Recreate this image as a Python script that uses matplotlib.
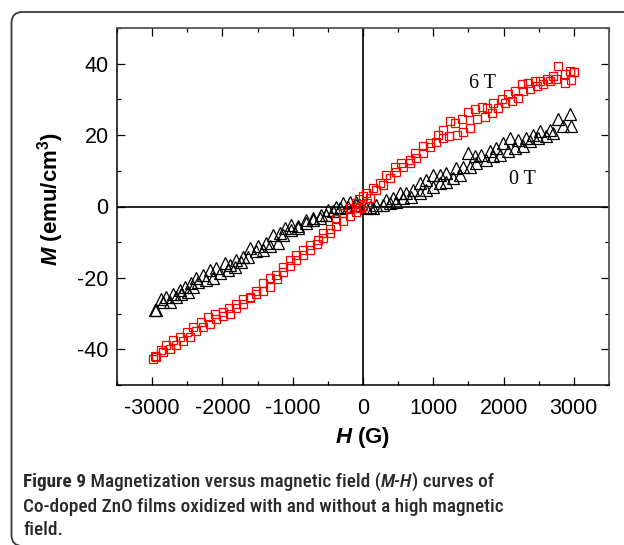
import matplotlib
matplotlib.use("Agg")
import matplotlib.pyplot as plt
from matplotlib import font_manager
from matplotlib.path import Path
from matplotlib.patches import PathPatch
from matplotlib import transforms
from matplotlib.ticker import MultipleLocator

# ---------------- data ----------------
h6_down = [3000, 2944, 2880, 2774, 2702, 2617, 2517, 2446, 2346, 2260, 2160, 2061, 1975, 1847, 1761,
           1690, 1590, 1490, 1405, 1305, 1234, 1139, 1068, 949, 854, 736, 664, 546, 451, 332,
           237, 142, 47, 0, -50, -95, -190, -285, -380, -475, -570, -641, -750, -854, -950,
           -1044, -1140, -1234, -1330, -1424, -1520, -1614, -1710, -1803, -1900, -1993, -2100,
           -2207, -2310, -2420, -2510, -2610, -2700, -2800, -2880, -2966]
m6_down = [37.8, 37.9, 37.0, 39.3, 36.5, 35.6, 35.1, 35.1, 34.7, 34.2, 32.3, 31.4, 30.0, 29.1, 27.7,
           28.0, 27.2, 26.6, 24.4, 23.5, 23.9, 21.5, 20.1, 17.8, 16.9, 15.0, 13.1, 12.2, 11.2, 8.9,
           6.6, 5.2, 3.7, 3.0, 2.0, 0.9, -0.5, -1.9, -3.5, -6.2, -7.5, -9.4, -10.8, -12.2, -13.6,
           -15.0, -17.0, -19.2, -20.0, -21.5, -23.6, -25.3, -26.0, -27.2, -28.5, -29.5, -30.2,
           -30.9, -32.4, -33.7, -35.2, -36.5, -37.5, -38.9, -40.2, -42.0]
h6_up = [-2990, -2943, -2848, -2750, -2658, -2560, -2468, -2370, -2278, -2180, -2088, -1990, -1898,
         -1800, -1709, -1610, -1519, -1420, -1329, -1230, -1139, -1040, -949, -850, -759, -660,
         -570, -470, -380, -280, -190, -100, -40, 0, 50, 100, 190, 280, 380, 470, 570, 664, 760,
         850, 950, 1040, 1139, 1230, 1333, 1419, 1519, 1619, 1733, 1833, 1918, 2018, 2118, 2203,
         2275, 2374, 2474, 2560, 2660, 2753, 2873, 2960, 3000]
m6_up = [-42.6, -42.2, -40.7, -39.9, -38.9, -37.6, -36.5, -35.0, -33.7, -32.8, -31.4, -30.8, -30.0,
         -28.4, -27.2, -25.6, -24.4, -23.6, -22.5, -20.2, -18.3, -16.6, -15.0, -13.5, -12.2, -10.5,
         -8.9, -7.3, -5.6, -4.0, -2.8, -1.5, -0.5, 0.2, 1.0, 2.5, 4.7, 6.0, 8.0, 9.6, 11.0, 12.2, 13.5,
         15.0, 16.8, 18.0, 19.2, 19.8, 20.1, 21.0, 22.1, 24.4, 25.2, 26.3, 27.7, 29.1, 29.5, 30.4,
         32.3, 32.8, 33.7, 34.2, 35.1, 35.6, 34.7, 35.5, 37.6]

h0_down = [2943, 2776, 2658, 2515, 2420, 2326, 2200, 2088, 1993, 1898, 1804, 1685, 1590, 1495, 1424,
           1329, 1187, 1092, 997, 902, 807, 712, 617, 522, 427, 332, 190, 95, -95, -190,
           -285, -380, -498, -593, -712, -807, -925, -1020, -1115, -1187, -1281, -1376, -1495,
           -1614, -1709, -1804, -1898, -1970, -2088, -2183, -2278, -2373, -2444, -2539, -2610,
           -2705, -2800, -2871, -2966]
m0_down = [25.8, 24.4, 21.5, 21.1, 20.1, 19.2, 18.5, 19.2, 17.8, 16.4, 15.5, 14.5, 14.1, 15.0, 11.2,
           10.8, 9.4, 8.9, 8.9, 7.5, 6.6, 4.7, 3.7, 3.7, 2.3, 1.9, 0.5, 0.0, 1.4, 1.4,
           0.9, 0.0, -0.9, -2.3, -3.3, -3.7, -5.6, -5.2, -6.1, -7.5, -8.0, -10.3, -11.2,
           -11.7, -14.1, -15.0, -16.4, -15.9, -17.3, -17.8, -19.2, -20.1, -21.5, -22.5, -23.4,
           -24.4, -25.3, -25.8, -29.0]
h0_up = [-2943, -2848, -2753, -2658, -2587, -2492, -2420, -2349, -2231, -2136, -2041, -1922, -1827,
         -1732, -1637, -1519, -1424, -1329, -1210, -1139, -1020, -925, -807, -712, -617, -522,
         -427, -332, -214, -95, 47, 142, 285, 380, 475, 570, 688, 807, 902, 997, 1092, 1187,
         1281, 1376, 1519, 1614, 1756, 1851, 1946, 2064, 2160, 2278, 2373, 2492, 2610, 2705,
         2848, 2966]
m0_up = [-29.0, -26.7, -26.7, -25.3, -24.4, -23.9, -22.5, -21.1, -20.6, -20.1, -18.7, -17.8, -16.9,
         -15.5, -14.1, -12.6, -12.2, -11.2, -10.3, -8.0, -6.6, -6.1, -4.7, -3.7, -3.3, -2.3,
         -1.4, -0.5, 0.0, 0.5, -0.5, -0.5, 0.5, 0.9, 1.4, 2.3, 2.8, 3.7, 4.7, 5.6, 6.6, 7.0,
         8.0, 8.9, 11.2, 12.2, 13.1, 14.1, 14.5, 15.5, 16.4, 16.9, 18.3, 19.2, 19.7, 20.6,
         22.5, 22.5]

xticks = [-3000, -2000, -1000, 0, 1000, 2000, 3000]
yticks = [-40, -20, 0, 20, 40]
label_6T = "6 T"
label_0T = "0 T"
caption_lines = [
    [("Figure 9", "bold", "normal"), (" Magnetization versus magnetic field (", "normal", "normal"),
     ("M-H", "normal", "italic"), (") curves of", "normal", "normal")],
    [("Co-doped ZnO films oxidized with and without a high magnetic", "normal", "normal")],
    [("field.", "normal", "normal")],
]

# ---------------- fonts ----------------
names = {f.name for f in font_manager.fontManager.ttflist}
cap_font = "Liberation Sans Narrow" if "Liberation Sans Narrow" in names else (
    "Roboto Condensed" if "Roboto Condensed" in names else "Liberation Sans")
sans = "Liberation Sans"
serif = "Liberation Serif"

plt.rcParams["mathtext.fontset"] = "custom"
plt.rcParams["mathtext.rm"] = sans
plt.rcParams["mathtext.it"] = sans + ":italic"
plt.rcParams["mathtext.bf"] = sans + ":bold"
plt.rcParams["mathtext.bfit"] = sans + ":italic:bold"
plt.rcParams["font.family"] = [sans, "DejaVu Sans"]

W, H = 624, 545
fig = plt.figure(figsize=(W / 100, H / 100), dpi=100)

# frame (image pixel coordinates, y downward)
pix = transforms.Affine2D().scale(1.0 / W, -1.0 / H).translate(0, 1) + fig.transFigure
L, T, B, R, r = 11.5, 12.0, 546.0, 700.0, 11.0
verts = [(R, T), (L + r, T), (L, T), (L, T + r), (L, B - r), (L, B), (L + r, B), (R, B)]
codes = [Path.MOVETO, Path.LINETO, Path.CURVE3, Path.CURVE3, Path.LINETO, Path.CURVE3, Path.CURVE3,
         Path.LINETO]
frame = PathPatch(Path(verts, codes), transform=pix, fill=False, edgecolor="#3a3a3a", linewidth=1.3)
fig.add_artist(frame)

ax = fig.add_axes([117 / W, 1 - 385 / H, (609 - 117) / W, (385 - 28) / H])
ax.set_xlim(-3500, 3500)
ax.set_ylim(-50, 50)

ax.axhline(0, color="black", lw=1.2, zorder=1)
ax.axvline(0, color="black", lw=1.2, zorder=1)

ax.plot(h0_down, m0_down, linestyle="none", marker="^", ms=8, mfc="none", mec="black", mew=0.9, zorder=2)
ax.plot(h0_up, m0_up, linestyle="none", marker="^", ms=8, mfc="none", mec="black", mew=0.9, zorder=2)
ax.plot(h6_down, m6_down, linestyle="none", marker="s", ms=6.4, mfc="none", mec="red", mew=0.9, zorder=3)
ax.plot(h6_up, m6_up, linestyle="none", marker="s", ms=6.4, mfc="none", mec="red", mew=0.9, zorder=3)

ax.set_xticks(xticks)
ax.set_xticklabels([str(v) for v in xticks])
ax.set_yticks(yticks)
ax.set_yticklabels([str(v) for v in yticks])
ax.xaxis.set_minor_locator(MultipleLocator(500))
ax.yaxis.set_minor_locator(MultipleLocator(10))
ax.tick_params(which="both", direction="in", top=True, right=True, labelsize=15.5, colors="black")
ax.tick_params(which="major", length=5.5, width=0.9)
ax.tick_params(which="minor", length=3, width=0.9)
ax.tick_params(axis="x", pad=9)
ax.tick_params(axis="y", pad=6)
for lab in ax.get_xticklabels() + ax.get_yticklabels():
    lab.set_fontfamily(sans)

for s in ["left", "bottom"]:
    ax.spines[s].set_linewidth(1.1)
    ax.spines[s].set_color("black")
for s in ["right", "top"]:
    ax.spines[s].set_linewidth(1.3)
    ax.spines[s].set_color("#555555")

ax.set_xlabel(r"$\mathbfit{H}$ (G)", fontsize=16, fontweight="bold")
ax.set_ylabel(r"$\mathbfit{M}$ (emu/cm$^{\mathbf{3}}$)", fontsize=16, fontweight="bold")
ax.xaxis.set_label_coords(0.5, -0.112)
ax.yaxis.set_label_coords(-0.103, 0.522)

ax.text(1705, 34.5, label_6T, family=serif, fontsize=14.5, ha="center", va="center")
ax.text(2275, 7.6, label_0T, family=serif, fontsize=14.5, ha="center", va="center")

# caption
fig.canvas.draw()
renderer = fig.canvas.get_renderer()
cap_col = "#2a2a2a"


def draw_caption(fs):
    objs = []
    widths = []
    baselines = [487, 512, 535]
    for line, yb in zip(caption_lines, baselines):
        x = 23.0
        for s, w, st in line:
            ww = "bold" if w == "bold" else "medium"
            t = fig.text(x / W, 1 - yb / H, s, fontsize=fs, fontweight=ww, fontstyle=st,
                         family=[cap_font, "DejaVu Sans"], color=cap_col, ha="left", va="baseline")
            bb = t.get_window_extent(renderer)
            x += bb.width
            objs.append(t)
        widths.append(x - 23.0)
    return objs, widths


objs, widths = draw_caption(14)
scale = 474.0 / widths[0]
for o in objs:
    o.remove()
draw_caption(14 * scale)

fig.savefig("out.png", dpi=100)
